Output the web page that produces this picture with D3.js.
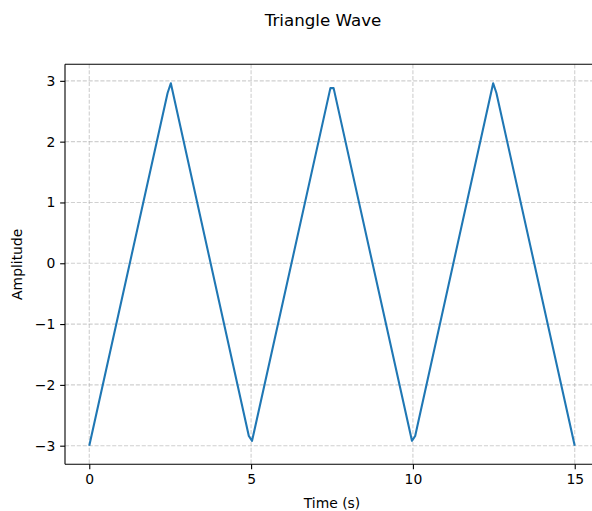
<!DOCTYPE html>
<html>
<head>
<meta charset="utf-8">
<script src="https://cdn.jsdelivr.net/npm/d3@7"></script>
<style>
  body { margin: 0; background: #fff; }
  svg { font-family: "DejaVu Sans", sans-serif; }
</style>
</head>
<body>
<svg id="chart" width="592" height="511"></svg>
<script>
// vertices of the plotted line
var time = [0, 2.42, 2.52, 4.93, 5.03, 7.45, 7.55, 9.97, 10.07, 12.48, 12.58, 15];
var amplitude = [-3, 2.80, 2.96, -2.84, -2.92, 2.88, 2.88, -2.92, -2.84, 2.96, 2.80, -3];
var xTicks = [0, 5, 10, 15];
var yTicks = [-3, -2, -1, 0, 1, 2, 3];

var points = time.map(function(t, i) { return {t: t, v: amplitude[i]}; });

var svg = d3.select("#chart"),
    axLeft = 65,
    axTop = 64.3,
    axRight = 599,
    axBottom = 464.3;

var xScale = d3.scaleLinear().domain([-0.75, 15.75]).range([axLeft, axRight]),
    yScale = d3.scaleLinear().domain([-3.306, 3.272]).range([axBottom, axTop]);

var fmt = function(d) { return d < 0 ? "\u2212" + Math.abs(d) : String(d); };

// grid
var grid = svg.append("g")
    .attr("stroke", "#b0b0b0")
    .attr("stroke-opacity", 0.6)
    .attr("stroke-width", 1.1)
    .attr("stroke-dasharray", "4.1,1.8");

grid.selectAll(".gx")
    .data(xTicks)
    .enter().append("line")
    .attr("x1", function(d) { return xScale(d); })
    .attr("x2", function(d) { return xScale(d); })
    .attr("y1", axTop)
    .attr("y2", axBottom);

grid.selectAll(".gy")
    .data(yTicks)
    .enter().append("line")
    .attr("x1", axLeft)
    .attr("x2", axRight)
    .attr("y1", function(d) { return yScale(d); })
    .attr("y2", function(d) { return yScale(d); });

// the wave
svg.append("path")
    .datum(points)
    .attr("fill", "none")
    .attr("stroke", "#1f77b4")
    .attr("stroke-width", 2.08)
    .attr("stroke-linejoin", "round")
    .attr("stroke-linecap", "butt")
    .attr("d", d3.line()
        .x(function(d) { return xScale(d.t); })
        .y(function(d) { return yScale(d.v); }));

// axes
var xAxis = svg.append("g")
    .attr("transform", "translate(0," + axBottom + ")")
    .call(d3.axisBottom(xScale).tickValues(xTicks).tickFormat(fmt)
        .tickSizeInner(4.86).tickSizeOuter(0).tickPadding(4.86));

var yAxis = svg.append("g")
    .attr("transform", "translate(" + axLeft + ",0)")
    .call(d3.axisLeft(yScale).tickValues(yTicks).tickFormat(fmt)
        .tickSizeInner(4.86).tickSizeOuter(0).tickPadding(4.86));

[xAxis, yAxis].forEach(function(ax) {
    ax.select(".domain").remove();
    ax.selectAll("line").attr("stroke", "#000").attr("stroke-width", 1.1);
    ax.selectAll("text")
        .attr("fill", "#000")
        .style("font-size", "13.9px")
        .style("font-family", "DejaVu Sans");
});

// spines: left, bottom, top (right edge falls outside the picture)
var spines = svg.append("g")
    .attr("stroke", "#000")
    .attr("stroke-width", 1.1)
    .attr("fill", "none");
spines.append("line").attr("x1", axLeft).attr("x2", axLeft).attr("y1", axTop).attr("y2", axBottom);
spines.append("line").attr("x1", axLeft).attr("x2", axRight).attr("y1", axBottom).attr("y2", axBottom);
spines.append("line").attr("x1", axLeft).attr("x2", axRight).attr("y1", axTop).attr("y2", axTop);

// labels
svg.append("text")
    .attr("x", 323)
    .attr("y", 26)
    .attr("text-anchor", "middle")
    .style("font-size", "16.7px")
    .text("Triangle Wave");

svg.append("text")
    .attr("x", (axLeft + axRight) / 2)
    .attr("y", 508)
    .attr("text-anchor", "middle")
    .style("font-size", "13.9px")
    .text("Time (s)");

svg.append("text")
    .attr("transform", "translate(22," + (axTop + axBottom) / 2 + ") rotate(-90)")
    .attr("text-anchor", "middle")
    .style("font-size", "13.9px")
    .text("Amplitude");
</script>
</body>
</html>
